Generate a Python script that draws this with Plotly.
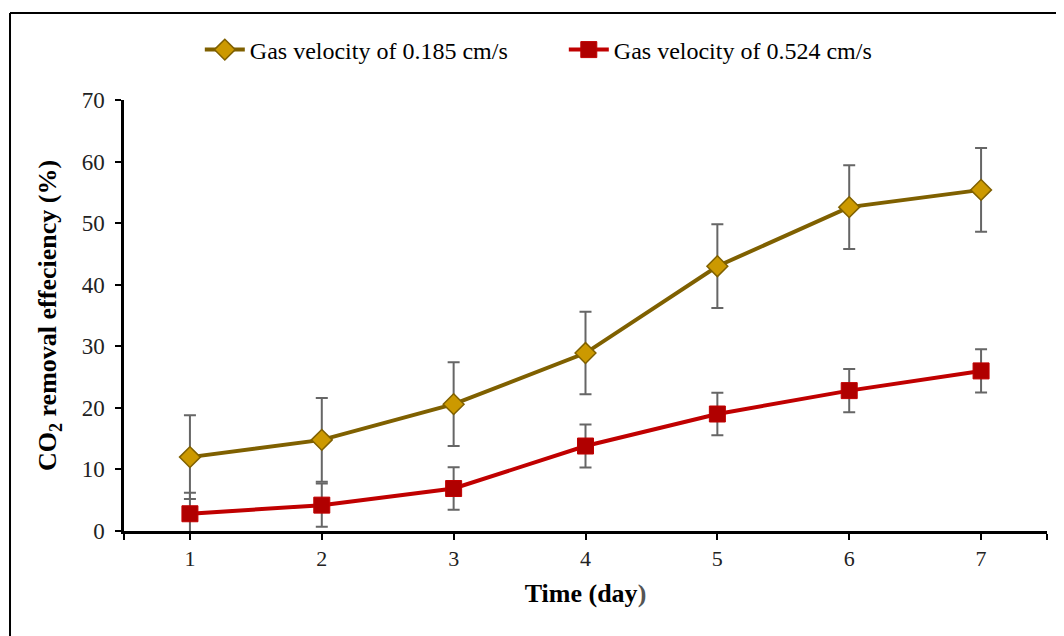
import plotly.graph_objects as go

days = [1, 2, 3, 4, 5, 6, 7]
eff_0185 = [12.0, 14.8, 20.6, 28.9, 43.0, 52.6, 55.4]
err_0185 = [6.8, 6.8, 6.8, 6.7, 6.8, 6.8, 6.8]
eff_0524 = [2.8, 4.2, 6.9, 13.8, 19.0, 22.8, 26.0]
err_0524 = [3.4, 3.5, 3.45, 3.5, 3.45, 3.5, 3.5]
names = ["Gas velocity of 0.185 cm/s", "Gas velocity of 0.524 cm/s"]
y_ticks = [0, 10, 20, 30, 40, 50, 60, 70]

FONT = "Liberation Serif"

fig = go.Figure()
fig.add_trace(go.Scatter(
    x=days, y=eff_0185, name=names[0], mode="lines+markers",
    line=dict(color="#7F6000", width=4),
    marker=dict(symbol="diamond", size=16, color="#CC9900",
                line=dict(color="#7F6000", width=1.5)),
    error_y=dict(type="data", array=err_0185, visible=True,
                 color="#666666", thickness=2, width=6),
))
fig.add_trace(go.Scatter(
    x=days, y=eff_0524, name=names[1], mode="lines+markers",
    line=dict(color="#C00000", width=4),
    marker=dict(symbol="square", size=16, color="#B00000",
                line=dict(color="#C00000", width=1)),
    error_y=dict(type="data", array=err_0524, visible=True,
                 color="#666666", thickness=2, width=6),
))

fig.update_layout(
    width=1056, height=628,
    margin=dict(l=116, r=17, t=92, b=105),
    paper_bgcolor="white", plot_bgcolor="white",
    font=dict(family=FONT, color="black", size=22),
    showlegend=True,
    legend=dict(orientation="h", x=0.4765, xanchor="center", y=1.116,
                yanchor="middle", font=dict(size=24, family=FONT, color="black"),
                itemwidth=40, entrywidth=309, entrywidthmode="pixels",
                bgcolor="rgba(0,0,0,0)"),
    xaxis=dict(range=[0.5, 7.5], tickmode="array",
               tickvals=days, ticktext=[str(d) for d in days],
               showline=True, linecolor="black", linewidth=2.5,
               ticks="outside", ticklen=6, tickwidth=2, tickcolor="black",
               minor=dict(tickmode="array", tickvals=[0.5, 7.5], ticks="outside",
                          ticklen=6, tickwidth=2, tickcolor="black", showgrid=False),
               showgrid=False, zeroline=False,
               tickfont=dict(size=22, family=FONT, color="#222222"),
               title=dict(text="<b>Time (day</b><span style='color:#555'><b>)</b></span>",
                          font=dict(size=26, family=FONT, color="black"), standoff=14)),
    yaxis=dict(range=[0, 70], tickmode="array", tickvals=y_ticks,
               showline=True, linecolor="black", linewidth=2.5,
               ticks="outside", ticklen=6, tickwidth=2, tickcolor="black",
               showgrid=False, zeroline=False, ticklabelstandoff=6,
               tickfont=dict(size=23, family=FONT, color="#222222"),
               title=dict(text="<b>CO<sub>2</sub> removal effeciency (%)</b>",
                          font=dict(size=26, family=FONT, color="black"), standoff=18)),
    shapes=[
        dict(type="line", xref="paper", yref="paper",
             x0=-0.1235, x1=1.5, y0=1.2019, y1=1.2019,
             line=dict(color="black", width=2)),
        dict(type="line", xref="paper", yref="paper",
             x0=-0.1235, x1=-0.1235, y0=-1, y1=1.2019,
             line=dict(color="black", width=2)),
    ],
)

fig.write_html("out.html")
